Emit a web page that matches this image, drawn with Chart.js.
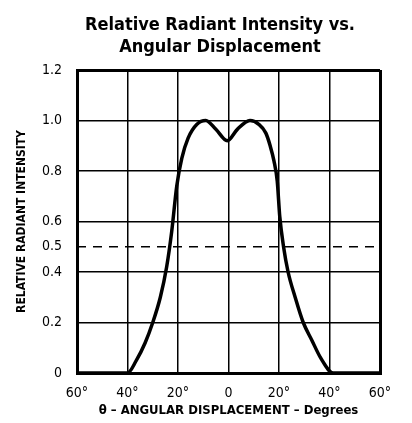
<!DOCTYPE html>
<html>
<head>
  <meta charset="UTF-8">
  <title>Relative Radiant Intensity vs. Angular Displacement</title>
  <script src="https://cdn.jsdelivr.net/npm/chart.js"></script>
  <style>
    body { margin: 0; background: #fff; }
    #wrap { width: 412px; height: 423px; }
  </style>
</head>
<body>
  <div id="wrap"><canvas id="chart" width="412" height="423"></canvas></div>
  <script>
    const FONT = '"Liberation Sans Narrow", "DejaVu Sans Condensed", Arial, sans-serif';

    // data
    const titleLines = ['Relative Radiant Intensity vs.', 'Angular Displacement'];
    const xTicks = [-60, -40, -20, 0, 20, 40, 60];
    const yTicks = [0, 0.2, 0.4, 0.5, 0.6, 0.8, 1.0, 1.2];
    const angles = [-60, -40, -36.5, -33, -30, -27, -24.5, -22.5, -20.5, -18.5, -16, -12.5, -9,
      -5, -0.5, 3.5, 8.5, 12, 14.8, 16.5, 18, 19.3, 20.3, 21.8, 23.6, 26.4, 29.6, 33, 36.5, 41.5, 60];
    const intensity = [0, 0, 0.05, 0.12, 0.2, 0.3, 0.42, 0.56, 0.74, 0.85, 0.93, 0.985, 1.0,
      0.965, 0.92, 0.965, 1.0, 0.985, 0.95, 0.9, 0.84, 0.76, 0.62, 0.5, 0.4, 0.3, 0.2, 0.13, 0.06, 0, 0];
    const halfLevel = 0.5;

    const titlePlugin = {
      id: 'twoLineTitle',
      afterDraw(chart) {
        const ctx = chart.ctx;
        ctx.save();
        ctx.fillStyle = '#000';
        ctx.font = 'bold 18px ' + FONT;
        ctx.textAlign = 'center';
        ctx.textBaseline = 'middle';
        ctx.fillText(titleLines[0], 220, 25);
        ctx.fillText(titleLines[1], 220, 47);
        ctx.restore();
      }
    };

    new Chart(document.getElementById('chart'), {
      type: 'scatter',
      data: {
        datasets: [{
          data: angles.map((a, i) => ({ x: a, y: intensity[i] })),
          showLine: true,
          borderColor: '#000',
          borderWidth: 3.5,
          pointRadius: 0,
          cubicInterpolationMode: 'monotone'
        }, {
          data: [{ x: -60, y: halfLevel }, { x: 60, y: halfLevel }],
          showLine: true,
          borderColor: '#000',
          borderWidth: 1.5,
          borderDash: [9, 7],
          pointRadius: 0
        }]
      },
      options: {
        responsive: false,
        animation: false,
        layout: { padding: { top: 70, right: 32, left: 0, bottom: 0 } },
        plugins: { legend: { display: false }, tooltip: { enabled: false } },
        scales: {
          x: {
            type: 'linear',
            min: -60, max: 60,
            afterBuildTicks: s => { s.ticks = xTicks.map(v => ({ value: v })); },
            afterFit: s => { s.height = 50; },
            grid: {
              color: '#000',
              lineWidth: c => (Math.abs(c.tick.value) === 60 ? 3 : 1.5),
              drawTicks: false
            },
            border: { color: '#000', width: 3 },
            ticks: {
              color: '#000',
              padding: 12,
              font: { family: FONT, size: 14 },
              callback: v => (v === 0 ? '0' : Math.abs(v) + '\u00b0')
            },
            title: {
              display: true,
              text: '\u03b8 \u2013 ANGULAR DISPLACEMENT \u2013 Degrees',
              color: '#000',
              font: { family: FONT, size: 13, weight: 'bold' },
              padding: { top: 0, bottom: 5 }
            }
          },
          y: {
            min: 0, max: 1.2,
            afterBuildTicks: s => { s.ticks = yTicks.map(v => ({ value: v })); },
            afterFit: s => { s.width = 77; },
            grid: {
              color: c => (c.tick.value === 0.5 ? 'rgba(0,0,0,0)' : '#000'),
              lineWidth: c => (c.tick.value === 1.2 ? 3 : 1.5),
              drawTicks: false
            },
            border: { color: '#000', width: 3 },
            ticks: {
              color: '#000',
              padding: 15,
              font: { family: FONT, size: 14 },
              callback: v => (v === 0 ? '0' : v.toFixed(1))
            },
            title: {
              display: true,
              text: 'RELATIVE RADIANT INTENSITY',
              color: '#000',
              font: { family: FONT, size: 12, weight: 'bold' },
              padding: { top: 15, bottom: 0 }
            }
          }
        }
      },
      plugins: [titlePlugin]
    });
  </script>
</body>
</html>
